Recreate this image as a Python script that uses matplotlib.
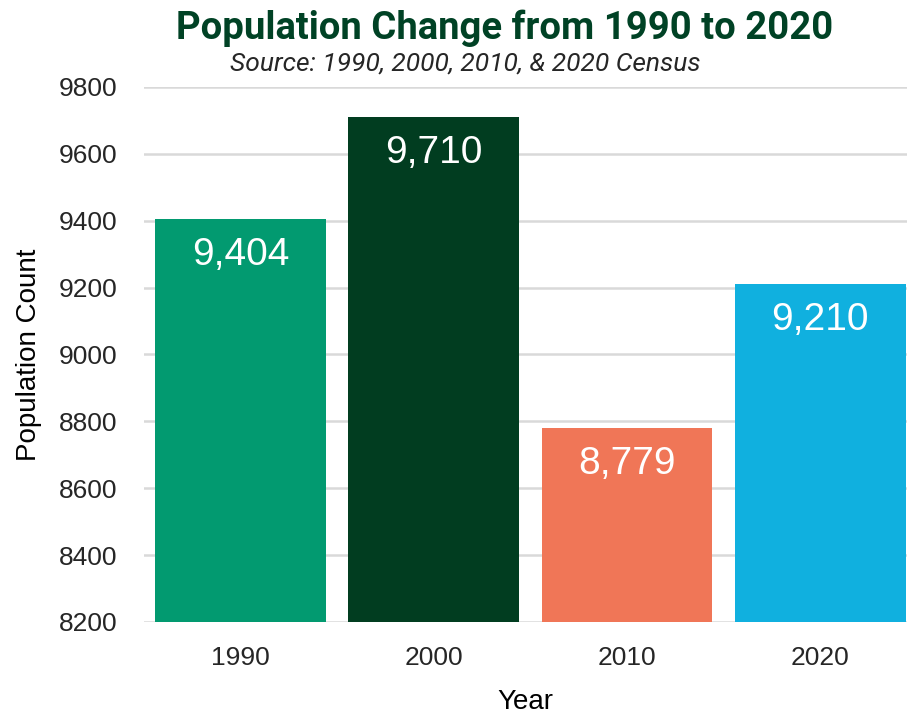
import matplotlib
matplotlib.use("Agg")
import matplotlib.pyplot as plt
from matplotlib import font_manager

years = ["1990", "2000", "2010", "2020"]
population = [9404, 9710, 8779, 9210]
bar_colors = ["#029a70", "#013d20", "#f07657", "#10b0df"]
yticks = [8200, 8400, 8600, 8800, 9000, 9200, 9400, 9600, 9800]

names = {f.name for f in font_manager.fontManager.ttflist}
narrow = "Liberation Sans Narrow" if "Liberation Sans Narrow" in names else "Roboto"
plt.rcParams["font.family"] = ["Liberation Sans", "DejaVu Sans"]

fig = plt.figure(figsize=(9.07, 7.19), dpi=100)
ax = fig.add_axes([0.159, 0.135, 0.841, 0.744])

x = range(len(years))
ax.bar(x, population, width=0.885, color=bar_colors, zorder=3)
for xi, v in zip(x, population):
    ax.annotate(f"{v:,}", (xi, v), xytext=(0, -36), textcoords="offset pixels",
                ha="center", va="center", color="white", fontsize=28, zorder=4)

ax.set_ylim(8200, 9800)
ax.set_xlim(-0.5, 3.45)
ax.set_yticks(yticks)
ax.set_xticks(list(x))
ax.set_xticklabels(years)
ax.tick_params(axis="both", length=0, labelsize=19, colors="#262626")
ax.tick_params(axis="y", pad=19)
ax.tick_params(axis="x", pad=17)
ax.grid(axis="y", color="#d9d9d9", linewidth=1.8, zorder=0)
for s in ax.spines.values():
    s.set_visible(False)

ax.set_ylabel("Population Count", fontsize=20, color="#000000", labelpad=12)
ax.set_xlabel("Year", fontsize=20, color="#000000", labelpad=14)

fig.text(0.556, 0.960, "Population Change from 1990 to 2020", ha="center", va="center",
         fontsize=27.5, fontweight="bold", color="#004225", family=[narrow, "DejaVu Sans"])
fig.text(0.513, 0.912, "Source: 1990, 2000, 2010, & 2020 Census", ha="center", va="center",
         fontsize=19, style="italic", color="#262626", family=[narrow, "DejaVu Sans"])

fig.savefig("out.png", dpi=100)
